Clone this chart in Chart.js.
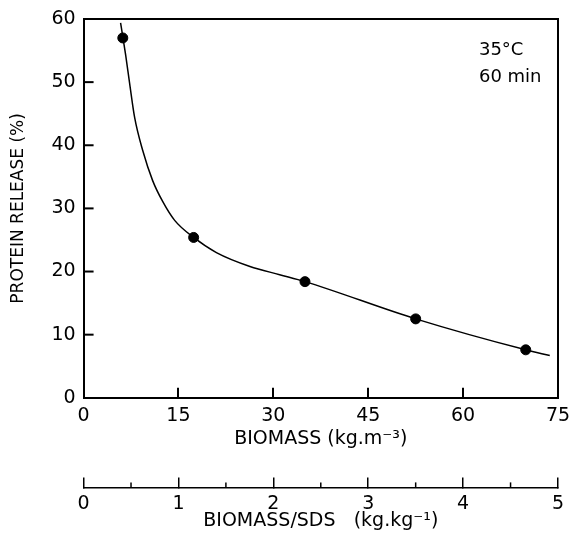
<!DOCTYPE html>
<html>
<head>
<meta charset="utf-8">
<script src="https://cdn.jsdelivr.net/npm/chart.js@4.4.0/dist/chart.umd.min.js"></script>
<style>
  body { margin: 0; background: #fff; }
  #wrap { width: 574px; height: 546px; }
</style>
</head>
<body>
<div id="wrap"><canvas id="chart"></canvas></div>
<script>
// measured points (biomass kg/m3, protein release %)
const biomass = [6.2, 17.4, 35.0, 52.5, 69.9];
const proteinRelease = [57.0, 25.4, 18.4, 12.5, 7.6];

// fitted curve
const curveX = [5.85, 6.65, 7.28, 8.07, 9.34, 10.92, 12.5, 14.4, 17.4, 21.0, 26.3, 31.0, 35.0, 52.5, 69.9, 73.7];
const curveY = [59.4, 54.3, 49.8, 44.4, 39.2, 34.4, 31.1, 28.1, 25.4, 23.0, 20.8, 19.5, 18.4, 12.5, 7.6, 6.7];

const releaseTicks = [10, 20, 30, 40, 50];
const sdsMinorTicks = [0.5, 1.5, 2.5, 3.5, 4.5];
const conditions = ['35°C', '60 min'];

const FONT = 'DejaVu Sans';

const points = biomass.map((x, i) => ({ x: x, y: proteinRelease[i] }));
const curve = curveX.map((x, i) => ({ x: x, y: curveY[i] }));

// box outline, inward y ticks, minor ticks on the SDS axis, and the condition note
const extras = {
  id: 'extras',
  afterDraw(chart) {
    const ctx = chart.ctx;
    const a = chart.chartArea;
    const xs = chart.scales.x, ys = chart.scales.y, s = chart.scales.x2;
    ctx.save();
    ctx.strokeStyle = '#000';
    ctx.lineWidth = 2;
    ctx.beginPath();
    ctx.moveTo(a.left, a.top);
    ctx.lineTo(a.right, a.top);
    ctx.lineTo(a.right, a.bottom);
    ctx.stroke();

    releaseTicks.forEach(v => {
      const py = ys.getPixelForValue(v);
      ctx.beginPath();
      ctx.moveTo(a.left, py);
      ctx.lineTo(a.left + 10, py);
      ctx.stroke();
    });

    ctx.lineWidth = 1.5;
    sdsMinorTicks.forEach(v => {
      const px = s.getPixelForValue(v);
      ctx.beginPath();
      ctx.moveTo(px, s.top);
      ctx.lineTo(px, s.top - 5);
      ctx.stroke();
    });

    ctx.fillStyle = '#000';
    ctx.font = '18px "' + FONT + '"';
    ctx.textBaseline = 'middle';
    ctx.fillText(conditions[0], xs.getPixelForValue(62.5), ys.getPixelForValue(55));
    ctx.fillText(conditions[1], xs.getPixelForValue(62.5), ys.getPixelForValue(50.8));
    ctx.restore();
  }
};

// the inward ticks need big label paddings, which chart.js also adds to the side margins
const trimX = scale => { scale.paddingRight = 16; scale.paddingLeft = 0; };
const trimY = scale => { scale.paddingTop = 19; scale.paddingBottom = 0; };

new Chart(document.getElementById('chart'), {
  type: 'scatter',
  data: {
    datasets: [
      {
        label: 'fit',
        data: curve,
        showLine: true,
        borderColor: '#000',
        borderWidth: 1.5,
        pointRadius: 0,
        cubicInterpolationMode: 'monotone'
      },
      {
        label: 'Protein release',
        data: points,
        backgroundColor: '#000',
        borderColor: '#000',
        pointRadius: 5
      }
    ]
  },
  options: {
    responsive: true,
    maintainAspectRatio: false,
    animation: false,
    layout: { padding: { top: 0, right: 0, left: 8, bottom: 14 } },
    plugins: { legend: { display: false }, tooltip: { enabled: false } },
    scales: {
      x: {
        type: 'linear',
        position: 'bottom',
        weight: 1,
        min: 0, max: 75,
        afterFit: trimX,
        border: { color: '#000', width: 2 },
        grid: { drawOnChartArea: false, tickLength: -10, color: '#000', lineWidth: 2 },
        ticks: { stepSize: 15, padding: 17, color: '#000', font: { family: FONT, size: 19 } },
        title: {
          display: true, text: 'BIOMASS (kg.m⁻³)', color: '#000',
          font: { family: FONT, size: 19 }, padding: { top: -17, bottom: 37 }
        }
      },
      x2: {
        type: 'linear',
        position: 'bottom',
        weight: 2,
        min: 0, max: 5,
        afterFit: trimX,
        border: { color: '#000', width: 1.5 },
        grid: { drawOnChartArea: false, tickLength: -10, color: '#000', lineWidth: 1.5 },
        ticks: { stepSize: 1, padding: 15, color: '#000', font: { family: FONT, size: 19 } },
        title: {
          display: true, text: 'BIOMASS/SDS   (kg.kg⁻¹)', color: '#000',
          font: { family: FONT, size: 19 }, padding: { top: -21, bottom: 0 }
        }
      },
      y: {
        type: 'linear',
        min: 0, max: 60,
        afterFit: trimY,
        border: { color: '#000', width: 2 },
        grid: { drawOnChartArea: false, drawTicks: false },
        ticks: { stepSize: 10, padding: 8, color: '#000', font: { family: FONT, size: 19 } },
        title: {
          display: true, text: 'PROTEIN RELEASE (%)', color: '#000',
          font: { family: FONT, size: 17 }, padding: { top: 0, bottom: 15 }
        }
      }
    }
  },
  plugins: [extras]
});
</script>
</body>
</html>
